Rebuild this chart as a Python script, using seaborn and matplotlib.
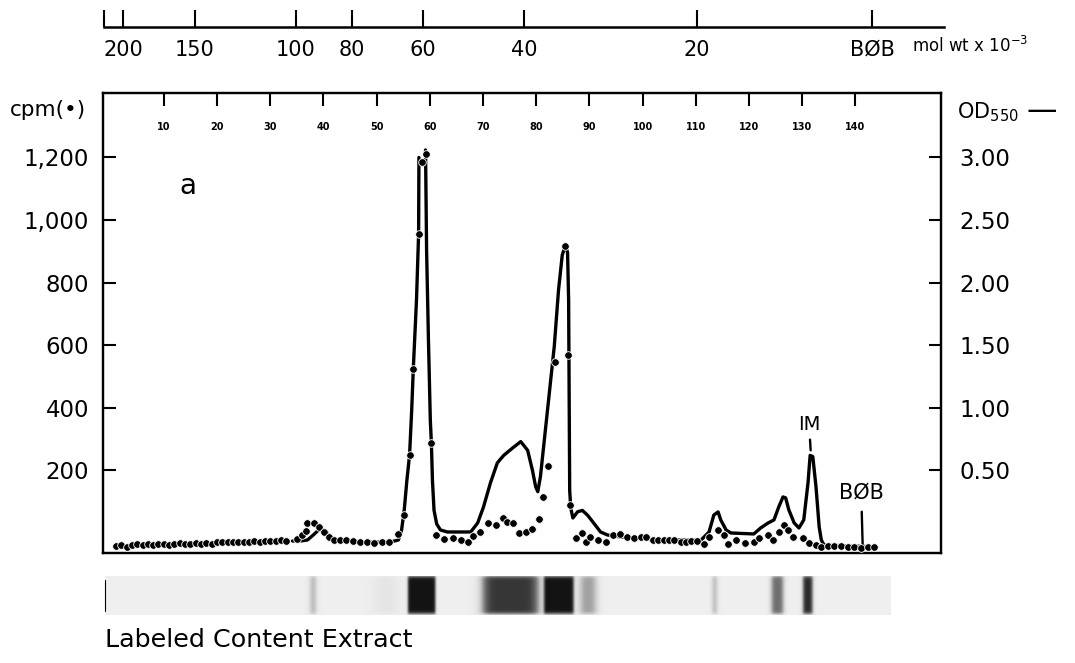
import numpy as np
import pandas as pd
import matplotlib
matplotlib.use("Agg")
import matplotlib.pyplot as plt
import seaborn as sns

sns.set_theme(style="white")
plt.rcParams["font.family"] = ["DejaVu Sans"]
plt.rcParams["mathtext.fontset"] = "dejavusans"
for key in ("text.color", "xtick.color", "ytick.color", "axes.labelcolor"):
    plt.rcParams[key] = "black"

# ---- radioactivity per fraction (dots), cpm ----
cpm_frac = list(range(1, 34)) + [
    35.0, 35.9, 36.7, 37.0, 38.3, 39.2, 40.1, 41.0, 42.0, 43.2, 44.2, 45.5, 46.8,
    48.2, 49.6, 51.0, 52.4, 54.1, 55.1, 56.2, 56.9, 58.0, 58.6, 59.2, 60.3, 61.1,
    62.6, 64.3, 65.8, 67.1, 68.2, 69.5, 70.9, 72.4, 73.7, 74.6, 75.6, 76.7, 78.0,
    79.3, 80.5, 81.2, 82.2, 83.6, 85.5, 85.9, 86.3, 87.4, 88.7, 89.3, 90.2, 91.6,
    93.1, 94.4, 95.7, 97.1, 98.3, 99.7, 100.6, 101.9, 102.9, 104.0, 104.9, 105.9,
    107.2, 108.1, 109.1, 110.2, 111.5, 112.5, 114.2, 115.3, 116.0, 117.5, 119.2,
    120.9, 121.9, 123.6, 124.5, 125.6, 126.6, 127.3, 128.3, 130.2, 131.3, 132.6,
    133.6, 134.9, 136.0, 137.3, 138.6, 139.8, 141.1, 142.4, 143.5]
cpm_vals = [
    -42, -40, -45, -38, -36, -38, -36, -38, -36, -35, -38, -35, -32, -35, -36, -32,
    -35, -32, -36, -30, -28, -30, -29, -30, -28, -29, -26, -28, -26, -25, -26, -22,
    -25,
    -19, -8, 6, 32, 32, 18, 2, -13, -22, -21, -21, -26, -29,
    -30, -32, -30, -30, -3, 58, 248, 524, 955, 1187, 1210, 288, -6,
    -19, -16, -22, -29, -10, 3, 32, 26, 48, 35, 32, 0, 3,
    13, 45, 115, 214, 546, 917, 569, 89, -16, 0, -29, -13, -22,
    -29, -6, -3, -13, -16, -13, -13, -22, -22, -22, -22, -22,
    -29, -29, -26, -26, -35, -13, 10, -6, -35, -22, -32,
    -29, -16, -6, -22, 3, 26, 10, -13, -16, -32, -38,
    -45, -42, -42, -42, -45, -45, -48, -45, -45]

# ---- OD550 trace; the fraction 59 peak runs off scale, so two pieces ----
od_frac_a = [34.2, 35.7, 37.0, 37.9, 38.9, 39.6, 40.4, 41.3, 42.4, 46.9, 52.6,
             54.1, 54.7, 55.2, 55.7, 56.2, 56.6, 56.9, 57.5, 57.9, 57.96]
od_vals_a = [-0.064, -0.064, -0.056, -0.024, 0.016, 0.032, 0.008, -0.032, -0.056,
             -0.072, -0.072, -0.056, 0.024, 0.184, 0.423, 0.623, 0.982, 1.31,
             1.86, 2.39, 3.00]
od_frac_b = [59.2, 59.4, 59.75, 60.1, 60.3, 60.5, 60.8, 61.3, 62.0, 63.3, 67.7,
             69.0, 70.1, 71.4, 72.7, 73.9, 75.6, 77.1, 78.4, 79.3, 79.9, 80.3,
             80.8, 81.4, 82.4, 83.4, 84.2, 84.9, 85.5, 85.9, 86.1, 86.2, 86.3,
             86.5, 86.9, 87.8, 88.7, 89.7, 90.8, 92.1, 93.4, 95.9, 103.4, 111.0,
             112.5, 113.4, 114.2, 114.7, 115.7, 116.6, 120.9, 122.2, 123.6, 124.7,
             125.6, 126.4, 126.9, 127.5, 128.5, 129.4, 130.3, 131.1, 131.5, 132.0,
             132.6, 133.2, 133.6, 134.1, 143.0]
od_vals_b = [3.06, 2.26, 1.54, 0.90, 0.72, 0.42, 0.18, 0.072, 0.024, 0.008, 0.008,
             0.080, 0.208, 0.40, 0.56, 0.62, 0.68, 0.73, 0.66, 0.50, 0.37, 0.33,
             0.45, 0.69, 1.09, 1.49, 1.94, 2.22, 2.30, 2.24, 1.86, 1.09, 0.34,
             0.20, 0.12, 0.17, 0.18, 0.14, 0.08, 0.008, -0.016, -0.032, -0.056, -0.056,
             0.008, 0.144, 0.168, 0.104, 0.024, 0.0, -0.008, 0.04, 0.08, 0.104,
             0.208, 0.288, 0.28, 0.184, 0.08, 0.04, 0.104, 0.40, 0.62, 0.61,
             0.37, 0.048, -0.056, -0.096, -0.11]

frac_ticks = list(range(10, 150, 10))
cpm_ticks = [200, 400, 600, 800, 1000, 1200]
cpm_labels = ["200", "400", "600", "800", "1,000", "1,200"]
od_ticks = [0.5, 1.0, 1.5, 2.0, 2.5, 3.0]
od_labels = ["0.50", "1.00", "1.50", "2.00", "2.50", "3.00"]

# molecular weight markers (x 10^-3), log scale above the plot
mw_ticks = [216, 200, 150, 100, 80, 60, 40, 20, 9.9]
mw_labels = ["", "200", "150", "100", "80", "60", "40", "20", "BØB"]

# gel strip bands (fraction position, width, darkness, edge softness)
band_frac = [38.1, 51.7, 58.5, 75.2, 84.3, 89.8, 113.6, 125.4, 131.1]
band_width = [1.0, 4.0, 5.2, 10.4, 5.6, 3.0, 0.9, 2.2, 1.8]
band_dark = [0.35, 0.07, 0.92, 0.8, 0.92, 0.4, 0.3, 0.6, 0.85]
band_soft = [0.5, 1.5, 0.25, 1.0, 0.3, 0.8, 0.4, 0.5, 0.35]

xlim = (-1.43, 156.1)
ylim_cpm = (-64, 1406)
ylim_od = (ylim_cpm[0] / 400, ylim_cpm[1] / 400)

W, H = 1075, 663
fig = plt.figure(figsize=(W / 100, H / 100), dpi=100)

# ---- main chart ----
ax = fig.add_axes([103 / W, 1 - 553 / H, (941 - 103) / W, (553 - 93) / H])
ax2 = ax.twinx()
ax.set_zorder(ax2.get_zorder() + 1)
ax.patch.set_visible(False)

od = pd.DataFrame({
    "fraction": od_frac_a + od_frac_b,
    "od": od_vals_a + od_vals_b,
    "piece": [0] * len(od_frac_a) + [1] * len(od_frac_b),
})
sns.lineplot(data=od, x="fraction", y="od", units="piece", estimator=None,
             sort=False, color="black", lw=2.4, ax=ax2)

dots = pd.DataFrame({"fraction": cpm_frac, "cpm": cpm_vals})
sns.scatterplot(data=dots, x="fraction", y="cpm", color="black", s=30,
                edgecolor="white", linewidth=0.6, ax=ax, zorder=5)

ax.set_xlim(*xlim)
ax.set_ylim(*ylim_cpm)
ax2.set_ylim(*ylim_od)
ax.set_xlabel("")
ax.set_ylabel("")
ax2.set_ylabel("")

for a in (ax, ax2):
    for sp in a.spines.values():
        sp.set_linewidth(1.6)
        sp.set_color("black")

ax.set_xticks(frac_ticks)
ax.set_xticklabels([str(t) for t in frac_ticks])
ax.tick_params(axis="x", bottom=False, top=True, labelbottom=False, labeltop=True,
               direction="in", length=9.5, width=1.5, pad=-28, labelsize=7)
for lab in ax.get_xticklabels():
    lab.set_fontweight("bold")

ax.set_yticks(cpm_ticks)
ax.set_yticklabels(cpm_labels)
ax.tick_params(axis="y", left=True, direction="in", length=9, width=1.5,
               pad=10, labelsize=16.5)

ax2.set_yticks(od_ticks)
ax2.set_yticklabels(od_labels)
ax2.tick_params(axis="y", right=True, direction="in", length=9, width=1.5,
                pad=13, labelsize=16.5)

ax.text(14.6, 1109, "a", fontsize=20, ha="center", va="center")
ax2.annotate("IM", xy=(131.6, 0.66), xytext=(131.3, 0.87), ha="center",
             va="center", fontsize=14,
             arrowprops=dict(arrowstyle="-", lw=1.7, color="black",
                             shrinkA=2, shrinkB=0))
ax2.annotate("BØB", xy=(141.4, -0.136), xytext=(141.1, 0.32), ha="center",
             va="center", fontsize=15,
             arrowprops=dict(arrowstyle="-", lw=1.7, color="black",
                             shrinkA=4, shrinkB=0))

fig.text(10 / W, 1 - 110 / H, "cpm(•)", fontsize=15.5, va="center", ha="left")
fig.text(957 / W, 1 - 112 / H, "OD$_{550}$", fontsize=15, va="center", ha="left")
fig.text(1027 / W, 1 - 110 / H, "—", fontsize=22, va="center", ha="left")

# ---- molecular weight scale ----
axm = fig.add_axes([104 / W, 1 - 27 / H, 840 / W, 0.03])
axm.set_xscale("log")
axm.set_xlim(mw_ticks[0], 7.43)
axm.set_ylim(0, 1)
for side in ("top", "left", "right"):
    axm.spines[side].set_visible(False)
axm.spines["bottom"].set_linewidth(1.8)
axm.spines["bottom"].set_color("black")
axm.set_yticks([])
axm.set_xticks(mw_ticks)
axm.set_xticklabels(mw_labels)
axm.xaxis.set_minor_locator(matplotlib.ticker.NullLocator())
axm.tick_params(axis="x", bottom=True, direction="in", length=12, width=1.5,
                pad=9, labelsize=15)
axm.patch.set_visible(False)
fig.text(912 / W, 1 - 46 / H, "mol wt x 10$^{-3}$", fontsize=12, va="center",
         ha="left")

# ---- gel strip ----
axg = fig.add_axes([103 / W, 1 - 615 / H, (941 - 103) / W, 39 / H], sharex=ax)
gx = np.linspace(-1.0, 146.7, 1600)
gy = np.linspace(0, 1, 60)
prof = np.zeros_like(gx)
for c, w, d, s in zip(band_frac, band_width, band_dark, band_soft):
    prof += d * 0.5 * (np.tanh((gx - (c - w / 2)) / s) - np.tanh((gx - (c + w / 2)) / s))
vert = 0.5 * (np.tanh((gy - 0.02) / 0.05) - np.tanh((gy - 0.98) / 0.05))
img = 0.13 + 0.87 * np.clip(np.outer(vert, prof), 0, 1)
axg.imshow(img, cmap="Greys", vmin=0, vmax=1, aspect="auto",
           extent=(-1.0, 146.7, 0, 1), origin="lower", interpolation="bilinear")
axg.axvline(-1.0, ymin=0.1, ymax=0.9, color="black", lw=0.8)
axg.set_ylim(0, 1)
axg.axis("off")
ax.set_xlim(*xlim)

fig.text(105 / W, 1 - 640 / H, "Labeled Content Extract", fontsize=18.3,
         va="center", ha="left")

fig.savefig("out.png", dpi=100)
